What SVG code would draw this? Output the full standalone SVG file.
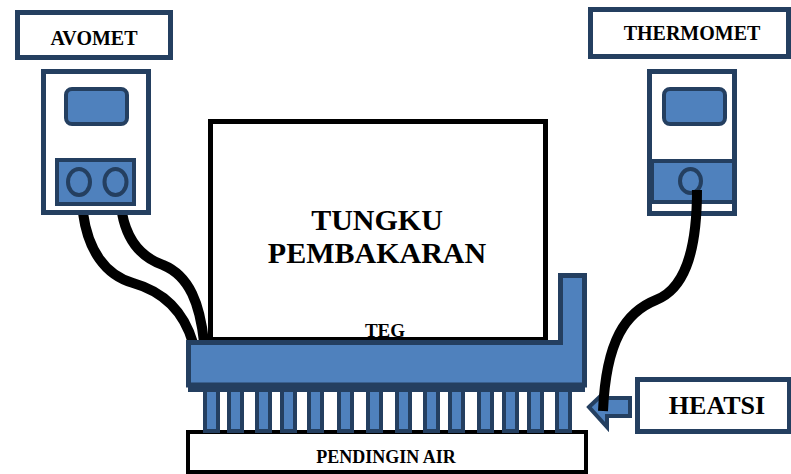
<svg xmlns="http://www.w3.org/2000/svg" width="791" height="474" viewBox="0 0 791 474">
  <style>
    text { font-family: 'Liberation Serif', 'Times New Roman', 'DejaVu Serif', serif; font-weight: bold; fill: #000; text-anchor: middle; }
    .frame { fill: #fff; stroke: #243F60; stroke-width: 5; }
    .part { fill: #4F81BD; stroke: #243F60; stroke-width: 4; }
    .cable { fill: none; stroke: #000; stroke-width: 10; stroke-linecap: butt; }
    .box { fill: #fff; stroke: #000; }
  </style>
  <rect width="791" height="474" fill="#fff"/>

  <!-- furnace -->
  <g id="tungku">
    <rect class="box" x="210.5" y="121.5" width="335" height="218" stroke-width="5"/>
    <text x="377" y="230" font-size="30">TUNGKU</text>
    <text x="377" y="263" font-size="30">PEMBAKARAN</text>
    <text x="385" y="337" font-size="19">TEG</text>
  </g>

  <!-- cables -->
  <g id="connectors">
    <path class="cable" d="M83,213 C88,250 105,275 133,283 C165,292 184,312 193,343"/>
    <path class="cable" d="M122,213 C127,240 140,257 163,265 C190,276 200,305 204,342"/>
  </g>

  <!-- water cooler -->
  <g id="pendingin-air">
    <rect class="box" x="188" y="432" width="398" height="40" stroke-width="4"/>
    <text x="386" y="463" font-size="18">PENDINGIN AIR</text>
  </g>

  <!-- heat sink: L-shaped plate and fins -->
  <g id="heatsink">
    <rect x="188" y="384" width="397" height="8" fill="#243F60"/>
    <g class="part">
      <rect x="205" y="390" width="13" height="41"/>
      <rect x="229" y="390" width="13" height="41"/>
      <rect x="257" y="390" width="13" height="41"/>
      <rect x="282" y="390" width="13" height="41"/>
      <rect x="309" y="390" width="13" height="41"/>
      <rect x="339" y="390" width="13" height="41"/>
      <rect x="368" y="390" width="13" height="41"/>
      <rect x="397" y="390" width="13" height="41"/>
      <rect x="425" y="390" width="13" height="41"/>
      <rect x="450" y="390" width="13" height="41"/>
      <rect x="479" y="390" width="13" height="41"/>
      <rect x="504" y="390" width="13" height="41"/>
      <rect x="529" y="390" width="13" height="41"/>
      <rect x="557" y="390" width="13" height="41"/>
    </g>
    <polygon fill="#4F81BD" stroke="#243F60" stroke-width="5" points="188.5,342.5 560.5,342.5 560.5,275.5 584.5,275.5 584.5,385 188.5,385"/>
  </g>

  <!-- multimeter -->
  <g id="avomet">
    <rect class="frame" x="17.5" y="12.5" width="153" height="45"/>
    <text x="94" y="45" font-size="20">AVOMET</text>
    <rect class="frame" x="43.5" y="71.5" width="105" height="141"/>
    <rect class="part" x="66" y="89" width="61" height="35" rx="6"/>
    <rect class="part" x="57" y="160" width="77" height="44"/>
    <ellipse class="part" cx="79" cy="182" rx="11" ry="13"/>
    <ellipse class="part" cx="115.5" cy="182" rx="11" ry="13"/>
  </g>

  <!-- thermometer -->
  <g id="thermomet">
    <rect class="frame" x="590.5" y="9.5" width="198" height="47"/>
    <text x="692" y="40" font-size="20">THERMOMET</text>
    <rect class="frame" x="649.5" y="71.5" width="85" height="142"/>
    <rect class="part" x="664" y="89" width="61" height="35" rx="6"/>
    <rect class="part" x="652" y="161" width="82" height="41"/>
    <ellipse class="part" cx="690.5" cy="181" rx="10.5" ry="12"/>
  </g>

  <!-- heat sink label with pointer -->
  <g id="heatsi">
    <rect class="frame" x="637.5" y="379.5" width="152" height="52"/>
    <text x="717" y="414" font-size="26">HEATSI</text>
    <polygon class="part" points="589,407 607,390 607,398 630,398 630,416 607,416 607,427"/>
  </g>

  <!-- thermometer probe -->
  <g id="probe">
    <path class="cable" d="M697,190 C697,258 682,290 656,300 C626,312 606,340 603,411"/>
  </g>
</svg>
